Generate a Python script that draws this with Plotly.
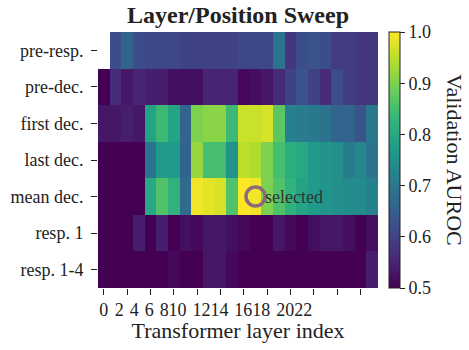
import plotly.graph_objects as go

# Probe positions (rows) and transformer layers (columns)
positions = ["pre-resp.", "pre-dec.", "first dec.", "last dec.", "mean dec.", "resp. 1", "resp. 1-4"]
layers = list(range(24))

# Validation AUROC per position, one value per layer
pre_resp = [None, 0.62, 0.66, 0.62, 0.61, 0.61, 0.61, 0.60, 0.60, 0.60, 0.60, 0.60,
            0.61, 0.61, 0.61, 0.69, 0.58, 0.62, 0.63, 0.62, 0.59, 0.59, 0.58, 0.58]
pre_dec = [0.50, 0.56, 0.53, 0.55, 0.54, 0.54, 0.52, 0.52, 0.52, 0.55, 0.55, 0.55,
           0.51, 0.52, 0.53, 0.56, 0.60, 0.63, 0.60, 0.56, 0.62, 0.59, 0.58, 0.58]
first_dec = [0.53, 0.53, 0.54, 0.53, 0.79, 0.84, 0.79, 0.66, 0.90, 0.91, 0.91, 0.84,
             0.96, 0.96, 0.97, 0.87, 0.72, 0.71, 0.70, 0.69, 0.66, 0.66, 0.63, 0.70]
last_dec = [0.50, 0.50, 0.50, 0.50, 0.69, 0.77, 0.77, 0.66, 0.92, 0.85, 0.85, 0.76,
            0.95, 0.94, 0.90, 0.85, 0.81, 0.80, 0.77, 0.76, 0.75, 0.71, 0.73, 0.69]
mean_dec = [0.50, 0.50, 0.50, 0.50, 0.80, 0.86, 0.82, 0.67, 0.99, 0.98, 0.97, 0.86,
            1.00, 0.99, 0.90, 0.86, 0.82, 0.79, 0.77, 0.76, 0.75, 0.74, 0.74, 0.72]
resp_1 = [0.50, 0.50, 0.50, 0.54, 0.50, 0.54, 0.50, 0.52, 0.51, 0.53, 0.53, 0.52,
          0.51, 0.50, 0.50, 0.53, 0.51, 0.50, 0.52, 0.53, 0.53, 0.52, 0.50, 0.52]
resp_1_4 = [0.50, 0.50, 0.50, 0.50, 0.50, 0.50, 0.51, 0.50, 0.50, 0.53, 0.53, 0.51,
            0.50, 0.50, 0.50, 0.50, 0.50, 0.50, 0.50, 0.50, 0.50, 0.50, 0.50, 0.54]

# Chosen probe
selected_layer = 13
selected_position = "mean dec."

# Tick marks every other layer; labels laid out as a compact run of text
tick_layers = list(range(0, 24, 2))
tick_labels = [str(v) for v in tick_layers]
label_slots = [0, 1.33, 2.61, 3.89, 5.17, 6.32, 8.37, 9.91, 11.95, 13.49, 15.54, 17.09]

font_family = "Liberation Serif"
z = [pre_resp, pre_dec, first_dec, last_dec, mean_dec, resp_1, resp_1_4]

fig = go.Figure()
fig.add_trace(go.Heatmap(
    z=z, x=layers, y=positions,
    colorscale="Viridis", zmin=0.5, zmax=1.0,
    hoverongaps=False,
    colorbar=dict(
        x=1.039, xanchor="left", xpad=0, ypad=0,
        y=0.5, yanchor="middle", len=1, lenmode="fraction",
        thickness=11, outlinewidth=1, outlinecolor="#222",
        tickvals=[0.5, 0.6, 0.7, 0.8, 0.9, 1.0],
        ticktext=["0.5", "0.6", "0.7", "0.8", "0.9", "1.0"],
        ticks="outside", ticklen=5, tickcolor="#222",
        tickfont=dict(family=font_family, size=18, color="#222"),
    ),
))

# Invisible trace so the label axis is rendered
fig.add_trace(go.Scatter(x=[layers[0]], y=[positions[0]], xaxis="x2",
                         mode="markers", marker=dict(opacity=0),
                         showlegend=False, hoverinfo="skip"))

# Selected layer/position marker
fig.add_trace(go.Scatter(
    x=[selected_layer], y=[selected_position], mode="markers",
    marker=dict(symbol="circle-open", size=19, color="#8c6a7c",
                line=dict(width=3.5, color="#8c6a7c")),
    showlegend=False, hoverinfo="skip",
))
fig.add_annotation(x=selected_layer, y=selected_position, text="selected",
                   xanchor="left", yanchor="middle", xshift=7, showarrow=False,
                   font=dict(family=font_family, size=18, color="#333"))

# Colorbar label, reading top to bottom
fig.add_annotation(x=1 + 77 / 280, xref="paper", y=0.5, yref="paper",
                   text="Validation AUROC", textangle=90, showarrow=False,
                   xanchor="center", yanchor="middle",
                   font=dict(family=font_family, size=22, color="#222"))

fig.update_layout(
    width=469, height=350,
    margin=dict(l=98, r=91, t=32, b=62),
    paper_bgcolor="white", plot_bgcolor="white",
    font=dict(family=font_family, color="#222"),
    title=dict(text="<b>Layer/Position Sweep</b>", x=0.5, xref="paper",
               y=1 - 15 / 350, yref="container", yanchor="middle",
               font=dict(family=font_family, size=24, color="#222")),
    xaxis=dict(range=[-0.5, 23.5], tickmode="array", tickvals=tick_layers,
               ticktext=[""] * len(tick_layers), ticks="outside", ticklen=6,
               tickcolor="#222", showgrid=False, zeroline=False, showline=False,
               automargin=False,
               title=dict(text="Transformer layer index", standoff=26,
                          font=dict(family=font_family, size=22, color="#222"))),
    xaxis2=dict(overlaying="x", anchor="y", side="bottom",
                range=[-0.5, 23.5], tickmode="array", tickvals=label_slots,
                ticktext=tick_labels, ticks="outside", ticklen=5, tickangle=0,
                tickcolor="rgba(0,0,0,0)", showgrid=False, zeroline=False,
                showline=False, automargin=False,
                tickfont=dict(family=font_family, size=18, color="#222")),
    yaxis=dict(autorange="reversed", ticks="outside", ticklen=6, tickcolor="#222",
               showgrid=False, zeroline=False, showline=False,
               ticklabelstandoff=4, automargin=False,
               tickfont=dict(family=font_family, size=18, color="#222")),
)

fig.write_html("out.html")
